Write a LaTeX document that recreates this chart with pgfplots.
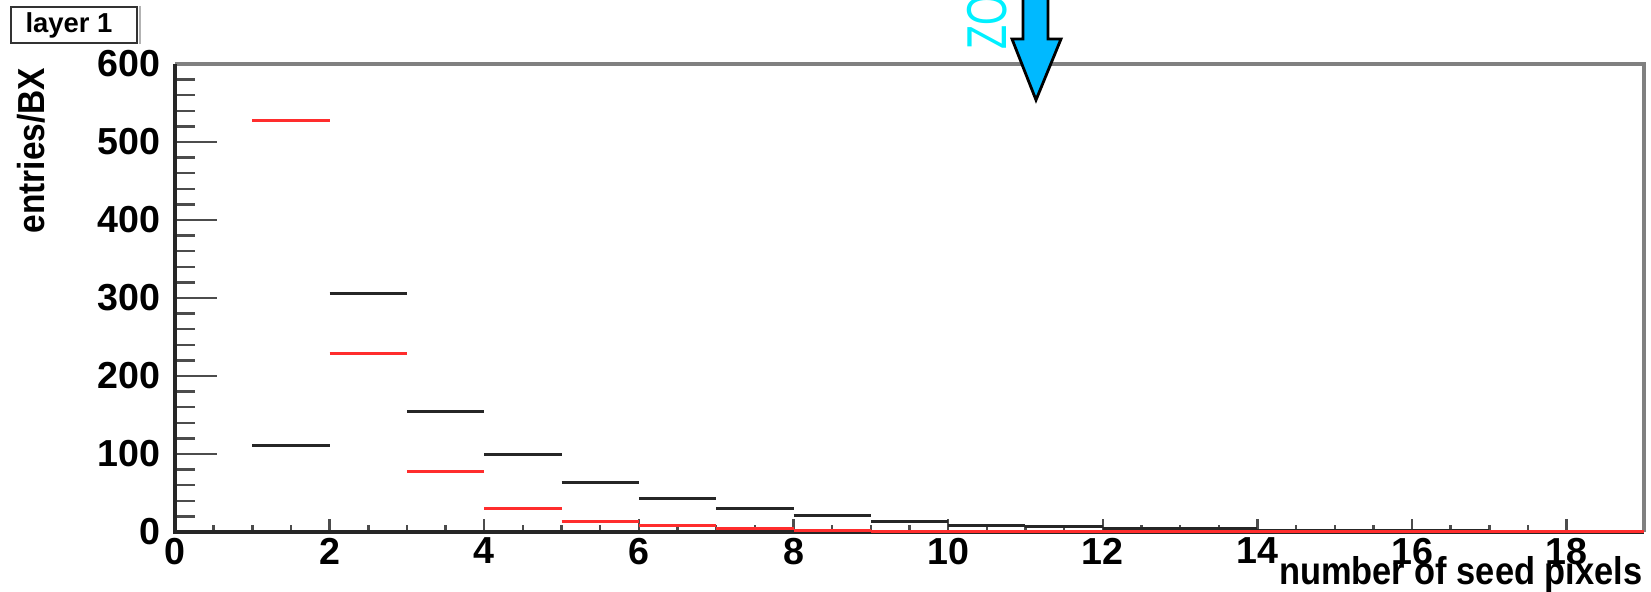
\documentclass[border=0pt]{standalone}
\usepackage{fontspec}
\setmainfont{Liberation Sans}
\newfontfamily\narrowfont[FakeStretch=0.89]{Liberation Sans}
\newfontfamily\condfont[FakeStretch=0.7]{Liberation Sans}
\usepackage{pgfplots}
\pgfplotsset{compat=1.18}
\definecolor{arrowblue}{RGB}{0,185,255}
\definecolor{zocyan}{RGB}{0,240,255}
\definecolor{framegray}{RGB}{128,128,128}
\definecolor{histred}{RGB}{255,45,45}

\pgfplotstableread{
x y
0 1
1 111
2 306
3 155
4 99
5 63
6 43
7 30
8 21
9 13
10 8
11 6.5
12 4.5
13 4.5
14 2.5
15 2.5
16 2.5
17 1
18 1
19 1
}\blackdata

\pgfplotstableread{
x y
1 528
2 229
3 77
4 30
5 13
6 8
7 5
8 2.5
9 1
10 1
11 1
12 0.5
13 0.5
14 0.5
15 0.5
16 0.5
17 0.5
18 0.5
19 0.5
}\reddata

\begin{document}
\begin{tikzpicture}[x=1cm,y=1cm]
\useasboundingbox (0,0) rectangle (16.51,5.92);

% axis carrying the y ticks
\begin{axis}[
  at={(1.75cm,0.60cm)}, anchor=south west,
  width=14.69cm, height=4.68cm, scale only axis,
  xmin=0, xmax=19, ymin=0, ymax=600,
  axis line style={draw=none},
  xtick=\empty,
  ytick={0,100,...,600},
  minor y tick num=4,
  ytick pos=left,
  tick align=inside,
  major tick length=0.42cm,
  minor tick length=0.20cm,
  tick style={black!70, line width=0.7pt},
  /pgf/number format/assume math mode=true,
  yticklabel style={font=\bfseries\fontsize{10.7}{12}\selectfont, inner sep=0pt, xshift=-4pt},
]
\end{axis}

% axis carrying the x ticks and the data
\begin{axis}[
  at={(1.75cm,0.60cm)}, anchor=south west,
  width=14.69cm, height=4.68cm, scale only axis,
  xmin=0, xmax=19, ymin=0, ymax=600,
  axis line style={draw=none},
  ytick=\empty,
  xtick={0,2,...,18},
  minor x tick num=3,
  xtick pos=left,
  tick align=inside,
  major tick length=0.13cm,
  minor tick length=0.07cm,
  tick style={black!70, line width=0.7pt},
  clip=false,
  /pgf/number format/assume math mode=true,
  xticklabel style={font=\bfseries\fontsize{10.7}{12}\selectfont, inner sep=0pt, yshift=-1.5pt},
]
\draw[framegray, line width=1.3pt] (rel axis cs:0,1) -- (rel axis cs:1,1) -- (rel axis cs:1,0);
\draw[black!85, line width=1.2pt] (rel axis cs:0,1) -- (rel axis cs:0,0) -- (rel axis cs:1,0);
\addplot[black!85, line width=0.85pt, jump mark left] table[x=x,y=y] {\blackdata};
\addplot[histred, line width=0.85pt, jump mark left] table[x=x,y=y] {\reddata};
\end{axis}

% y label
\node[rotate=90, anchor=north east, inner sep=0pt, font=\narrowfont\bfseries\fontsize{10.7}{12}\selectfont] at (0.17,5.25) {entries/BX};
% x label
\node[anchor=base east, inner sep=0pt, font=\narrowfont\bfseries\fontsize{11}{12}\selectfont] at (16.43,0.07) {number of seed pixels};

% layer box
\draw[framegray!60, line width=0.7pt] (1.40,5.86) -- (1.40,5.48);
\draw[black!80, line width=0.6pt] (0.11,5.49) rectangle (1.37,5.85);
\node[inner sep=0pt, font=\bfseries\fontsize{7.8}{9}\selectfont] at (0.69,5.67) {layer 1};

% ZOOM annotation
\node[rotate=90, anchor=south west, inner sep=0pt, text=zocyan, font=\condfont\fontsize{16}{18}\selectfont] at (10.08,5.42) {ZOOM};
\filldraw[fill=arrowblue, draw=black, line width=0.8pt]
  (10.23,6.2) -- (10.23,5.53) -- (10.12,5.53) -- (10.36,4.92) -- (10.61,5.53) -- (10.48,5.53) -- (10.48,6.2) -- cycle;
\end{tikzpicture}
\end{document}
